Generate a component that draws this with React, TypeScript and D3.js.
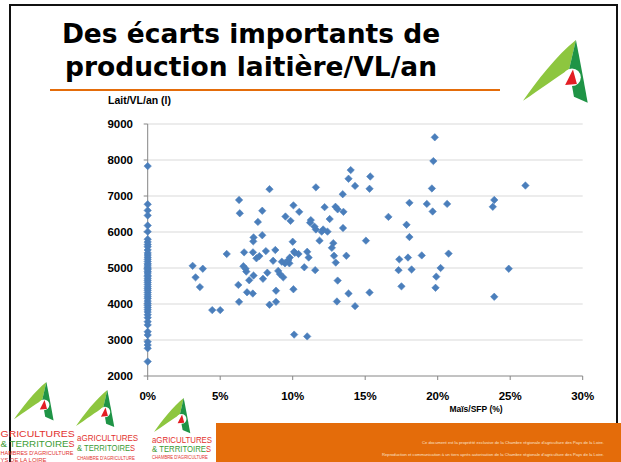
import React, { useLayoutEffect, useRef, useState } from "react";
import * as d3 from "d3";

// ---- Data ----
const title = ["Des écarts importants de", "production laitière/VL/an"];
const yAxisTitle = "Lait/VL/an (l)";
const xAxisTitle = "Maïs/SFP (%)";
const yTicks = [2000, 3000, 4000, 5000, 6000, 7000, 8000, 9000];
const xTicks = [0, 5, 10, 15, 20, 25, 30];

// Farms with no maize (0 %)
const zeroMaizeMilk = [
  7830, 6770, 6600, 6460, 6180, 6010, 5800, 5720, 5650, 5590, 5500, 5420, 5360, 5300, 5240,
  5180, 5120, 5080, 5030, 4990, 4950, 4900, 4860, 4800, 4760, 4700, 4650, 4600, 4540, 4480,
  4430, 4380, 4320, 4260, 4200, 4150, 4080, 4020, 3960, 3900, 3840, 3780, 3700, 3620, 3510,
  3420, 3230, 3140, 2950, 2860, 2770, 2400,
];

// Farms with maize: share of maize in forage area (%)
const maizeShare = [
  3.1, 3.3, 3.6, 3.8, 4.45, 5.0, 5.45, 6.25, 6.3, 6.3, 6.35, 6.6, 6.75, 6.8, 6.65, 6.85, 7.0,
  7.25, 7.26, 7.3, 7.3, 7.28, 7.5, 7.6, 7.7, 7.9, 7.9, 7.95, 8.15, 8.25, 8.4, 8.4, 8.65, 8.8,
  8.85, 8.85, 9.0, 9.12, 9.25, 9.35, 9.5, 9.47, 9.7, 9.77, 9.8, 9.85, 10.0, 10.05, 10.05, 10.1,
  10.15, 10.1, 10.4, 10.45, 10.8, 11.0, 11.0, 11.1, 11.2, 11.25, 11.5, 11.55, 11.6, 11.6, 11.85,
  12.0, 12.1, 12.2, 12.4, 12.55, 12.7, 12.8, 12.85, 12.95, 12.97, 13.05, 13.1, 13.1, 13.45,
  13.47, 13.5, 13.7, 13.85, 13.85, 14.0, 14.3, 14.3, 15.05, 15.3, 15.35, 15.3, 16.6, 17.3,
  17.35, 17.5, 17.85, 17.95, 18.05, 18.05, 18.2, 18.9, 19.25, 19.65, 19.6, 19.7, 19.8, 19.85,
  19.9, 20.2, 20.65, 20.75, 23.8, 23.9, 23.9, 24.9, 26.05,
];
// Milk per cow per year (l), same order as maizeShare
const maizeMilk = [
  5060, 4740, 4470, 4980, 3830, 3830, 5390, 4530, 4060, 6890, 6520, 5050, 4980, 4900, 5435, 4325,
  4660, 4290, 5435, 5850, 4790, 5740, 5270, 6280, 5330, 6590, 5910, 4700, 5470, 4870, 7190, 3980,
  5200, 5500, 4370, 4060, 4920, 4830, 5175, 4740, 6430, 5130, 5220, 5130, 5290, 6310, 5730, 6740,
  4410, 5450, 5420, 3150, 5390, 6560, 5020, 5450, 3100, 5290, 6260, 6330, 6150, 4940, 7240, 6070,
  5760, 6010, 6070, 6690, 6010, 6360, 5560, 5690, 5340, 6700, 5150, 4070, 6630, 4650, 7050, 6110,
  6560, 5340, 7480, 4290, 7720, 7280, 3940, 5760, 7200, 7540, 4320, 6420, 4940, 5240, 4490, 6200,
  5290, 6810, 5860, 4960, 5350, 6780, 6570, 7210, 7970, 8630, 4450, 4760, 5000, 6780, 5400, 6700,
  6890, 4200, 4980, 7290,
];

const footerLines = [
  "Ce document est la propriété exclusive de la Chambre régionale d'agriculture des Pays de la Loire.",
  "Reproduction et communication à un tiers après autorisation de la Chambre régionale d'agriculture des Pays de la Loire.",
];

const ORANGE = "#e46c0a";
const BLUE = "#4a7ebb";
const RED = "#e2312d";
const GREEN = "#3b9b35";

function LogoMark({ x, y, s }: { x: number; y: number; s: number }) {
  return (
    <g transform={`translate(${x},${y}) scale(${s})`}>
      <path d="M0,62 C14,42 34,16 54,0 L47,30 C34,38 18,50 0,62 Z" fill="#8dc63f" />
      <path d="M54,0 C58,20 62,42 66,64 L52,58 L47,30 Z" fill="#1f9446" />
      <circle cx="50" cy="38" r="9" fill="#fff" />
      <path d="M43,46 L51,30 L55,45 Z" fill="#e31e24" />
    </g>
  );
}

// Text squeezed horizontally (via transform) to a given width
function FitText({ x, y, w, size, fill, t }: { x: number; y: number; w: number; size: number; fill: string; t: string }) {
  const ref = useRef<SVGTextElement>(null);
  const [s, setS] = useState(0.75);
  useLayoutEffect(() => {
    if (ref.current) {
      const L = ref.current.getComputedTextLength();
      if (L > 0) setS(w / L);
    }
  }, [w, t, size]);
  return (
    <g transform={`translate(${x},${y}) scale(${s},1)`}>
      <text ref={ref} x={0} y={0} fontSize={size} fill={fill}>
        {t}
      </text>
    </g>
  );
}

type Part = { t: string; c: string; w: number };
type Line = { y: number; size: number; parts: Part[] };

function LogoText({ x, lines }: { x: number; lines: Line[] }) {
  return (
    <g fontFamily="'Liberation Sans Narrow', 'Liberation Sans', Arial, sans-serif">
      {lines.map((ln, i) => {
        let cx = x;
        return (
          <g key={i}>
            {ln.parts.map((p, j) => {
              const px = cx;
              cx += p.w;
              return <FitText key={j} x={px} y={ln.y} w={p.w} size={ln.size} fill={p.c} t={p.t} />;
            })}
          </g>
        );
      })}
    </g>
  );
}

export default function App() {
  const x = d3.scaleLinear().domain([0, 30]).range([147.7, 582.7]);
  const y = d3.scaleLinear().domain([2000, 9000]).range([376, 124]);
  const pts = [
    ...zeroMaizeMilk.map((v) => [0, v]),
    ...maizeShare.map((m, i) => [m, maizeMilk[i]]),
  ];
  const r = 3.7;
  const diamond = `M0,${-r}L${r},0L0,${r}L${-r},0Z`;
  const axisColor = "#868686";

  return (
    <div style={{ position: "absolute", left: 0, top: 0 }}>
      <svg width={621} height={462} style={{ display: "block" }}>
        <rect x={0} y={0} width={621} height={462} fill="#fff" />
        {/* slide frame */}
        <rect x={10} y={5} width={607} height={460} fill="none" stroke="#111" strokeWidth={2} />

        {/* title */}
        <g fontFamily="'DejaVu Sans', Verdana, sans-serif" fontWeight="bold" fontSize={26.5} fill="#000" textAnchor="middle">
          <text x={251} y={43}>{title[0]}</text>
          <text x={251} y={76}>{title[1]}</text>
        </g>
        <line x1={50} y1={90} x2={500} y2={90} stroke={ORANGE} strokeWidth={2} />
        <LogoMark x={523} y={40} s={0.98} />

        {/* gridlines */}
        {yTicks.slice(1).map((t) => (
          <line key={t} x1={x(0)} x2={x(30)} y1={y(t)} y2={y(t)} stroke="#d9d9d9" strokeWidth={1} />
        ))}
        {/* axes */}
        <line x1={x(0)} x2={x(0)} y1={y(9000)} y2={y(2000)} stroke={axisColor} strokeWidth={1} />
        <line x1={x(0)} x2={x(30)} y1={y(2000)} y2={y(2000)} stroke={axisColor} strokeWidth={1} />
        {yTicks.map((t) => (
          <line key={t} x1={x(0) - 4} x2={x(0)} y1={y(t)} y2={y(t)} stroke={axisColor} />
        ))}
        {xTicks.map((t) => (
          <line key={t} x1={x(t)} x2={x(t)} y1={y(2000)} y2={y(2000) + 4} stroke={axisColor} />
        ))}

        {/* footer band */}
        <rect x={216} y={423} width={405} height={39} fill={ORANGE} />
        <g fontFamily="'Liberation Sans', Arial, sans-serif" fontSize={3.6} fill="#fbe3cf">
          <text x={422} y={444} textLength={182} lengthAdjust="spacingAndGlyphs">{footerLines[0]}</text>
          <text x={382} y={456} textLength={222} lengthAdjust="spacingAndGlyphs">{footerLines[1]}</text>
        </g>

        {/* footer logos (first one cropped by the slide edge) */}
        <LogoMark x={14} y={382} s={0.6} />
        <LogoText
          x={0.5}
          lines={[
            { y: 437, size: 9.5, parts: [{ t: "GRICULTURES", c: RED, w: 74 }] },
            { y: 447, size: 9.5, parts: [{ t: "& TERRITOIRE", c: GREEN, w: 68 }, { t: "S", c: RED, w: 6 }] },
            { y: 454.8, size: 6, parts: [{ t: "HAMBRES D'AGRICULTURE", c: RED, w: 73 }] },
            { y: 461.5, size: 6, parts: [{ t: "YS DE LA LOIRE", c: RED, w: 46 }] },
          ]}
        />
        <LogoMark x={76} y={390} s={0.58} />
        <LogoText
          x={77}
          lines={[
            { y: 441, size: 9.5, parts: [{ t: "aGRICULTURES", c: RED, w: 61 }] },
            { y: 451, size: 9.5, parts: [{ t: "& TERRITOIRE", c: GREEN, w: 53 }, { t: "S", c: RED, w: 5 }] },
            { y: 459.5, size: 6, parts: [{ t: "CHAMBRE D'AGRICULTURE", c: RED, w: 58 }] },
          ]}
        />
        <LogoMark x={154} y={398} s={0.55} />
        <LogoText
          x={152}
          lines={[
            { y: 442.5, size: 8.5, parts: [{ t: "aGRICULTURES", c: RED, w: 60 }] },
            { y: 451.5, size: 8.5, parts: [{ t: "& TERRITOIRE", c: GREEN, w: 54 }, { t: "S", c: RED, w: 5 }] },
            { y: 458.5, size: 5, parts: [{ t: "CHAMBRE D'AGRICULTURE", c: RED, w: 56 }] },
          ]}
        />

        {/* tick labels */}
        <g fontFamily="'Liberation Sans', Arial, sans-serif" fontWeight="bold" fontSize={11.5} fill="#000">
          {yTicks.map((t) => (
            <text key={t} x={133} y={y(t) + 4} textAnchor="end">
              {t}
            </text>
          ))}
          {xTicks.map((t) => (
            <text key={t} x={x(t)} y={399.5} textAnchor="middle">
              {t + "%"}
            </text>
          ))}
        </g>
        <text x={108} y={104} fontFamily="'Liberation Sans', Arial, sans-serif" fontWeight="bold" fontSize={10.5}>
          {yAxisTitle}
        </text>
        <text x={476} y={411.5} fontFamily="'Liberation Sans', Arial, sans-serif" fontWeight="bold" fontSize={8.5} textAnchor="middle">
          {xAxisTitle}
        </text>

        {/* points */}
        {pts.map((p, i) => (
          <path key={i} d={diamond} transform={`translate(${x(p[0])},${y(p[1])})`} fill={BLUE} stroke="#4f81bd" strokeWidth={0.6} />
        ))}
      </svg>
    </div>
  );
}
